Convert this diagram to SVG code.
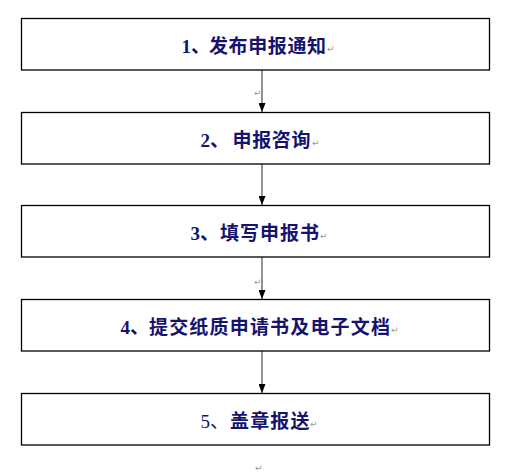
<svg xmlns="http://www.w3.org/2000/svg" width="518" height="474" viewBox="0 0 518 474">
<style>
.box{fill:#fff;stroke:#000;stroke-width:1.3}
.lbl{font-family:"Liberation Serif","Noto Sans CJK SC",sans-serif;font-size:19px;font-weight:bold;fill:#14146e}
.num{font-weight:normal}
.ret{font-family:"DejaVu Sans",sans-serif;font-size:9px;fill:#999;font-weight:normal}
.conn{stroke:#808080;stroke-width:1.7;fill:none}
</style>
<defs>
<marker id="ah" markerUnits="userSpaceOnUse" markerWidth="9" markerHeight="7" refX="9" refY="3.5" orient="auto" viewBox="0 0 9 7">
<path d="M0,0 L9,3.5 L0,7 Z" fill="#000"/>
</marker>
</defs>
<rect width="518" height="474" fill="#fff"/>
<g id="connectors">
<line class="conn" x1="262" y1="70" x2="262" y2="112" marker-end="url(#ah)"/>
<line class="conn" x1="262" y1="164" x2="262" y2="205" marker-end="url(#ah)"/>
<line class="conn" x1="262" y1="257" x2="262" y2="299" marker-end="url(#ah)"/>
<line class="conn" x1="262" y1="351" x2="262" y2="393" marker-end="url(#ah)"/>
<text class="ret" x="254" y="96">↵</text>
<text class="ret" x="254" y="285">↵</text>
</g>
<g id="node1">
<rect class="box" x="21.5" y="18.5" width="468" height="51.5"/>
<text class="lbl" x="181.5" y="52.5">1、</text>
<text class="lbl" x="209" y="52.5" textLength="117" lengthAdjust="spacing">发布申报通知</text>
<text class="ret" x="327" y="52">↵</text>
</g>
<g id="node2">
<rect class="box" x="21.5" y="112.5" width="468" height="51.5"/>
<text class="lbl" x="200.5" y="146.5">2、</text>
<text class="lbl" x="232.5" y="146.5" textLength="78" lengthAdjust="spacing">申报咨询</text>
<text class="ret" x="312" y="146">↵</text>
</g>
<g id="node3">
<rect class="box" x="21.5" y="205.5" width="468" height="51.5"/>
<text class="lbl" x="190.5" y="239.5">3、</text>
<text class="lbl" x="220" y="239.5" textLength="99" lengthAdjust="spacing">填写申报书</text>
<text class="ret" x="320" y="239">↵</text>
</g>
<g id="node4">
<rect class="box" x="21.5" y="299.5" width="468" height="51.5"/>
<text class="lbl" x="120.5" y="333.5">4、</text>
<text class="lbl" x="149" y="333.5" textLength="241" lengthAdjust="spacing">提交纸质申请书及电子文档</text>
<text class="ret" x="391" y="333">↵</text>
</g>
<g id="node5">
<rect class="box" x="21.5" y="393.5" width="468" height="51.5"/>
<text class="lbl num" x="200.5" y="427.5">5、</text>
<text class="lbl" x="230" y="427.5" textLength="79.5" lengthAdjust="spacing">盖章报送</text>
<text class="ret" x="310" y="427">↵</text>
</g>
<text class="ret" x="255" y="471">↵</text>
</svg>
